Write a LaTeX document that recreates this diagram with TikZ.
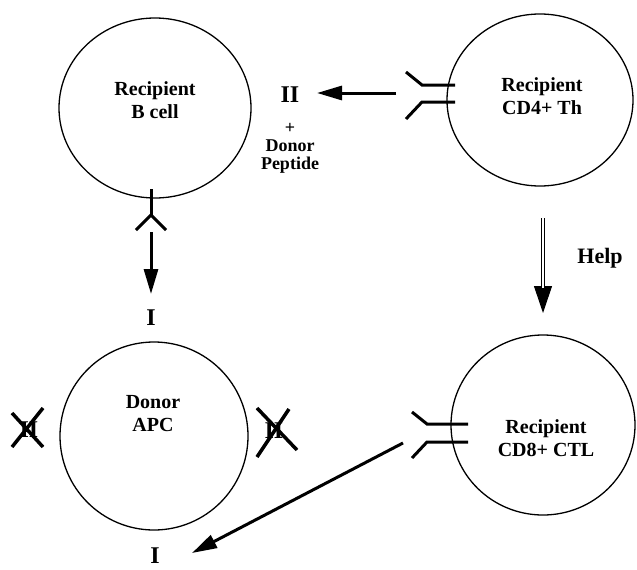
\documentclass[tikz,border=0pt]{standalone}
\usepackage{fontspec}
\setmainfont{Liberation Serif}
\usetikzlibrary{arrows.meta}
\usetikzlibrary{shapes}

\begin{document}
\begin{tikzpicture}[x = 1pt, y = -1pt]
	\tikzstyle{cellStyle} = [shape = ellipse, draw, line width = 1.3pt, inner sep = 0pt]
	\tikzstyle{nameStyle} = [align = center, font = \fontsize{20}{23}\selectfont\bfseries]
	\tikzstyle{classStyle} = [inner sep = 0pt, font = \fontsize{24}{26}\selectfont\bfseries]
	\tikzstyle{smallStyle} = [align = center, inner sep = 0pt, font = \fontsize{18}{18}\selectfont\bfseries]
	\tikzstyle{receptorStyle} = [line width = 3pt]
	\tikzstyle{crossStyle} = [line width = 3.5pt]
	\tikzstyle{arrowStyle} = [line width = 3pt, -{Triangle[length = 25pt, width = 14pt]}]
	\useasboundingbox (0, 0) rectangle (637, 570);
	% cells
	\node[cellStyle, minimum width = 192pt, minimum height = 180pt] (bcell) at (155, 108) {};
	\node[cellStyle, minimum width = 186pt, minimum height = 172pt] (th) at (540, 100) {};
	\node[cellStyle, minimum width = 188pt, minimum height = 188pt] (apc) at (154, 436) {};
	\node[cellStyle, minimum width = 184pt, minimum height = 180pt] (ctl) at (543, 425) {};
	\node[nameStyle] (bcellName) at (155, 100) {Recipient\\B cell};
	\node[nameStyle] (thName) at (542, 96) {Recipient\\CD4+ Th};
	\node[nameStyle] (apcName) at (153, 414) {Donor\\APC};
	\node[nameStyle] (ctlName) at (546, 438) {Recipient\\CD8+ CTL};
	% MHC labels
	\node[classStyle] (iiTop) at (290, 95) {II};
	\node[smallStyle] (peptide) at (290, 148) {+\\Donor\\Peptide};
	\node[classStyle] (iTop) at (151, 318) {I};
	\node[classStyle] (iBottom) at (155, 556) {I};
	\node[classStyle] (iiLeft) at (29, 430) {II};
	\node[classStyle] (iiRight) at (274, 431) {II};
	\node[font = \fontsize{22}{24}\selectfont\bfseries] (help) at (600, 258) {Help};
	% receptors
	\draw[receptorStyle] (406, 72) -- (422, 85) -- (455, 85);
	\draw[receptorStyle] (455, 102) -- (422, 102) -- (406, 119);
	\draw[receptorStyle] (412, 412) -- (427, 424) -- (468, 424);
	\draw[receptorStyle] (468, 442) -- (427, 442) -- (412, 458);
	\draw[receptorStyle] (151, 189) -- (151, 215);
	\draw[receptorStyle] (136, 230) -- (151, 215) -- (166, 230);
	% crossed out class II
	\draw[crossStyle] (12, 413) -- (43, 447) (43, 408) -- (12, 447);
	\draw[crossStyle] (257, 408) -- (297, 450) (289, 409) -- (257, 457);
	% arrows
	\coordinate (thOut) at (396, 93);
	\coordinate (thTip) at (317, 93);
	\coordinate (bOut) at (151, 232);
	\coordinate (bTip) at (151, 294);
	\coordinate (ctlOut) at (403, 443);
	\coordinate (ctlTip) at (192, 553);
	\coordinate (helpTop) at (543, 218);
	\coordinate (helpTip) at (543, 313);
	\draw[arrowStyle] (thOut) -- (thTip);
	\draw[arrowStyle] (bOut) -- (bTip);
	\draw[arrowStyle] (ctlOut) -- (ctlTip);
	\draw[line width = 1pt, -{Triangle[length = 27pt, width = 18pt]}] (helpTop) -- (helpTip);
	\draw[line width = 1.3pt, double distance = 1.8pt, shorten > = 25pt] (helpTop) -- (helpTip);
\end{tikzpicture}
\end{document}
